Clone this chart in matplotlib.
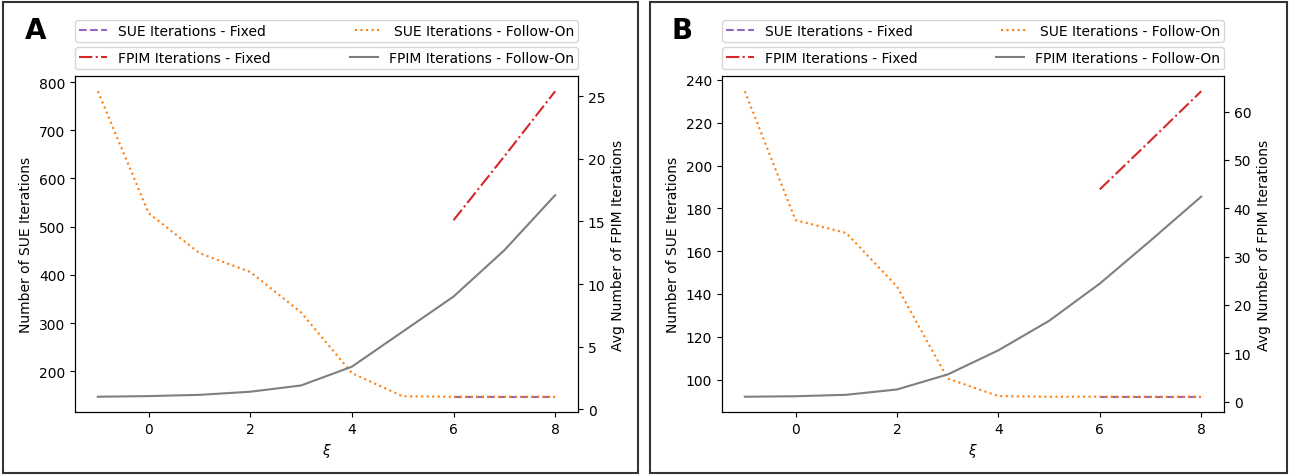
import matplotlib
matplotlib.use("Agg")
import matplotlib.pyplot as plt
from matplotlib.patches import Rectangle

xi = [-1, 0, 1, 2, 3, 4, 5, 6, 7, 8]
xi_fixed = [6, 7, 8]

# Panel A
a_sue_follow = [781, 528, 445, 406, 322, 196, 148, 147, 147, 147]
a_sue_fixed = [147, 147, 147]
a_fpim_follow = [1.0, 1.05, 1.15, 1.4, 1.9, 3.4, 6.2, 9.0, 12.7, 17.1]
a_fpim_fixed = [15.1, 20.2, 25.4]

# Panel B
b_sue_follow = [234.7, 174.5, 168.5, 143.5, 100.5, 92.3, 92, 92, 92, 92]
b_sue_fixed = [92, 92, 92]
b_fpim_follow = [1.0, 1.1, 1.4, 2.5, 5.6, 10.6, 16.7, 24.4, 33.3, 42.4]
b_fpim_fixed = [43.9, 54.0, 64.2]

labels = ["SUE Iterations - Fixed", "SUE Iterations - Follow-On",
          "FPIM Iterations - Fixed", "FPIM Iterations - Follow-On"]
panel_letters = ["A", "B"]

W, H = 1290, 477
fig = plt.figure(figsize=(W / 100, H / 100), dpi=100)

def fx(px):
    return px / W

def fy(py):
    return 1 - py / H

panels = [
    (75, 578, a_sue_fixed, a_sue_follow, a_fpim_fixed, a_fpim_follow, 3, 638),
    (722, 1224, b_sue_fixed, b_sue_follow, b_fpim_fixed, b_fpim_follow, 650, 1287),
]

for i, (l, r, sfx, sfo, ffx, ffo, bl, br) in enumerate(panels):
    ax = fig.add_axes([fx(l), fy(413), fx(r - l), (413 - 77) / H])
    ax2 = ax.twinx()
    h1, = ax.plot(xi_fixed, sfx, color="tab:purple", linestyle="--", lw=1.5)
    h2, = ax.plot(xi, sfo, color="tab:orange", linestyle=":", lw=1.5)
    h3, = ax2.plot(xi_fixed, ffx, color="tab:red", linestyle="-.", lw=1.5)
    h4, = ax2.plot(xi, ffo, color="tab:gray", linestyle="-", lw=1.5)
    ax.set_xticks([0, 2, 4, 6, 8])
    ax.set_xlabel(r"$\xi$", fontsize=10)
    ax.set_ylabel("Number of SUE Iterations", fontsize=10)
    ax2.set_ylabel("Avg Number of FPIM Iterations", fontsize=10)
    ax.tick_params(labelsize=10)
    ax2.tick_params(labelsize=10)
    ax.legend([h1, h2], labels[:2], ncol=2, mode="expand", loc="lower left",
              bbox_to_anchor=(0, 1.101, 1, 0.05), borderaxespad=0, fontsize=10,
              borderpad=0.3)
    ax2.legend([h3, h4], labels[2:], ncol=2, mode="expand", loc="lower left",
               bbox_to_anchor=(0, 1.02, 1, 0.05), borderaxespad=0, fontsize=10,
               borderpad=0.3)
    fig.text(fx(bl + 22), fy(31), panel_letters[i], fontsize=20,
             fontweight="bold", ha="left", va="center")
    fig.patches.append(Rectangle((fx(bl), fy(474)), fx(br - bl), (474 - 3) / H,
                                 transform=fig.transFigure, fill=False,
                                 edgecolor="#333333", lw=1.5))

fig.savefig("out.png", dpi=100)
